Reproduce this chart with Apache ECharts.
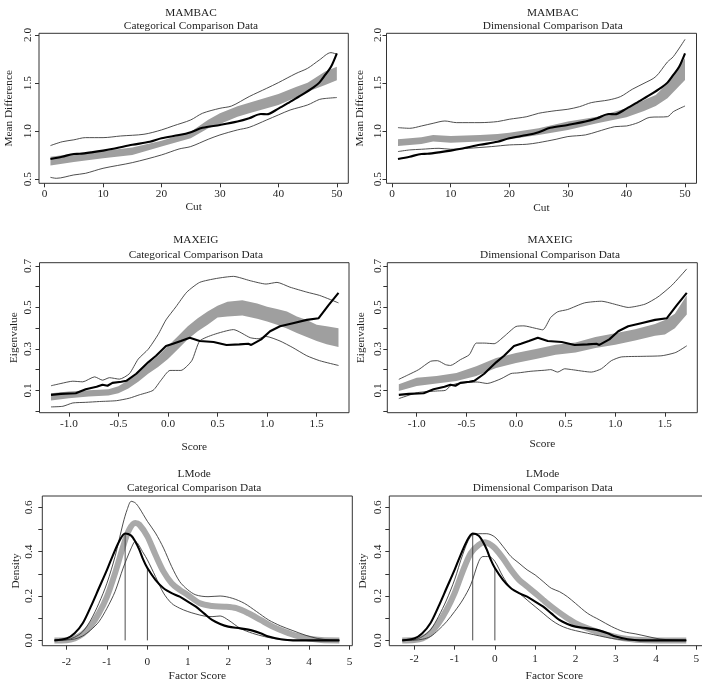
<!DOCTYPE html>
<html>
<head>
<meta charset="utf-8">
<script src="https://cdn.jsdelivr.net/npm/echarts@6/dist/echarts.min.js"></script>
<style>
html, body { margin: 0; padding: 0; background: #fff; }
#plot { width: 702px; height: 692px; }
</style>
</head>
<body>
<div id="plot"></div>
<script>
// ---- MAMBAC (x = cut) ----
var mambacResearch = [[1,0.711],[3,0.735],[5,0.763],[6,0.765],[8,0.78],[10,0.798],[12,0.82],[15,0.858],[18,0.89],[20,0.926],[23,0.96],[25,0.99],[27,1.035],[30,1.065],[33,1.1],[35,1.134],[37,1.178],[38,1.176],[40,1.235],[42,1.305],[44,1.377],[46,1.456],[47,1.505],[48,1.585],[49,1.67],[50,1.81]];
var mambacCatUpper = [[1,0.85],[3,0.89],[5,0.91],[7,0.933],[10,0.933],[13,0.95],[17,0.968],[20,1.013],[22,1.055],[25,1.117],[27,1.186],[30,1.238],[32,1.262],[35,1.36],[38,1.446],[40,1.505],[43,1.6],[45,1.654],[47,1.74],[49,1.817],[50,1.8]];
var mambacCatLower = [[1,0.52],[2,0.51],[5,0.545],[7,0.562],[10,0.614],[15,0.673],[20,0.753],[23,0.815],[25,0.84],[28,0.916],[30,0.961],[33,1.013],[35,1.04],[38,1.117],[40,1.169],[42,1.22],[45,1.273],[47,1.33],[48,1.34],[50,1.35]];
var mambacCatBand = [[1,0.642,0.735],[5,0.68,0.765],[10,0.718,0.795],[15,0.753,0.83],[20,0.84,0.9],[25,0.926,0.995],[28,1.03,1.12],[30,1.075,1.186],[33,1.15,1.26],[35,1.186,1.297],[40,1.273,1.387],[43,1.35,1.46],[45,1.41,1.505],[48,1.48,1.62],[50,1.53,1.67]];
var mambacDimUpper = [[1,1.037],[3,1.03],[5,1.054],[7,1.082],[9,1.106],[11,1.089],[15,1.089],[18,1.1],[20,1.124],[23,1.151],[25,1.186],[28,1.214],[30,1.228],[32,1.255],[34,1.297],[37,1.325],[39,1.36],[41,1.436],[43,1.498],[45,1.567],[47,1.72],[48,1.775],[50,1.955]];
var mambacDimLower = [[1,0.788],[3,0.805],[5,0.812],[8,0.822],[10,0.812],[13,0.822],[17,0.84],[20,0.857],[23,0.864],[25,0.881],[28,0.916],[30,0.944],[33,0.961],[35,0.995],[38,1.047],[40,1.054],[42,1.089],[44,1.144],[47,1.151],[48,1.203],[50,1.262]];
var mambacDimBand = [[1,0.846,0.916],[5,0.867,0.937],[7,0.892,0.961],[10,0.881,0.95],[15,0.892,0.961],[18,0.902,0.971],[20,0.916,0.985],[25,0.961,1.03],[30,1.013,1.1],[35,1.082,1.151],[40,1.144,1.238],[43,1.21,1.325],[45,1.262,1.377],[47,1.342,1.498],[50,1.533,1.758]];

// ---- MAXEIG (x = score) ----
var maxeigResearch = [[-1.18,0.078],[-1.08,0.083],[-0.93,0.086],[-0.83,0.105],[-0.72,0.117],[-0.66,0.127],[-0.61,0.122],[-0.56,0.136],[-0.47,0.141],[-0.42,0.146],[-0.32,0.18],[-0.2,0.235],[-0.12,0.267],[-0.02,0.314],[0.05,0.325],[0.13,0.338],[0.22,0.354],[0.32,0.338],[0.46,0.333],[0.59,0.319],[0.72,0.322],[0.81,0.325],[0.84,0.319],[0.94,0.346],[1.03,0.385],[1.13,0.409],[1.26,0.424],[1.4,0.44],[1.52,0.448],[1.62,0.511],[1.72,0.57]];
var maxeigCatUpper = [[-1.18,0.122],[-1.08,0.133],[-0.96,0.144],[-0.86,0.141],[-0.74,0.165],[-0.66,0.149],[-0.59,0.161],[-0.49,0.154],[-0.39,0.18],[-0.3,0.251],[-0.2,0.298],[-0.1,0.369],[-0.02,0.44],[0.08,0.503],[0.19,0.574],[0.32,0.621],[0.49,0.64],[0.66,0.65],[0.83,0.629],[0.99,0.613],[1.1,0.621],[1.23,0.598],[1.4,0.574],[1.53,0.558],[1.72,0.522]];
var maxeigCatLower = [[-1.18,0.02],[-1.06,0.023],[-0.96,0.039],[-0.83,0.042],[-0.69,0.046],[-0.52,0.05],[-0.39,0.062],[-0.29,0.078],[-0.15,0.1],[-0.07,0.149],[0.02,0.196],[0.13,0.196],[0.24,0.243],[0.32,0.338],[0.46,0.369],[0.66,0.393],[0.83,0.354],[0.91,0.349],[0.99,0.36],[1.13,0.338],[1.26,0.306],[1.4,0.267],[1.53,0.243],[1.72,0.22]];
var maxeigCatBand = [[-1.18,0.051,0.086],[-1.0,0.062,0.094],[-0.8,0.07,0.1],[-0.6,0.075,0.105],[-0.5,0.086,0.12],[-0.4,0.109,0.149],[-0.3,0.141,0.188],[-0.2,0.18,0.228],[-0.1,0.212,0.267],[0,0.251,0.314],[0.1,0.298,0.361],[0.2,0.346,0.409],[0.3,0.385,0.448],[0.4,0.417,0.48],[0.5,0.451,0.508],[0.6,0.456,0.527],[0.75,0.461,0.535],[0.9,0.445,0.519],[1.0,0.432,0.503],[1.1,0.417,0.492],[1.2,0.398,0.48],[1.3,0.377,0.456],[1.4,0.357,0.44],[1.5,0.338,0.417],[1.6,0.322,0.409],[1.72,0.309,0.4]];
var maxeigDimUpper = [[-1.18,0.153],[-1.08,0.176],[-0.98,0.2],[-0.86,0.24],[-0.79,0.243],[-0.71,0.224],[-0.66,0.22],[-0.56,0.248],[-0.47,0.272],[-0.4,0.328],[-0.32,0.328],[-0.22,0.325],[-0.12,0.36],[0,0.408],[0.08,0.411],[0.19,0.4],[0.27,0.392],[0.35,0.452],[0.42,0.479],[0.52,0.49],[0.69,0.522],[0.86,0.53],[1.03,0.511],[1.13,0.5],[1.3,0.516],[1.43,0.551],[1.57,0.607],[1.72,0.686]];
var maxeigDimLower = [[-1.18,0.06],[-0.99,0.089],[-0.79,0.097],[-0.71,0.1],[-0.66,0.121],[-0.59,0.133],[-0.39,0.14],[-0.29,0.133],[-0.15,0.156],[-0.05,0.181],[0.02,0.184],[0.15,0.192],[0.29,0.197],[0.35,0.2],[0.42,0.188],[0.49,0.204],[0.56,0.2],[0.76,0.188],[0.86,0.204],[0.96,0.243],[1.06,0.261],[1.27,0.264],[1.47,0.267],[1.61,0.283],[1.72,0.315]];
var maxeigDimBand = [[-1.18,0.097,0.129],[-1.0,0.121,0.161],[-0.8,0.133,0.169],[-0.6,0.145,0.184],[-0.4,0.169,0.216],[-0.2,0.208,0.256],[0,0.232,0.28],[0.2,0.251,0.3],[0.4,0.272,0.32],[0.6,0.283,0.331],[0.8,0.304,0.357],[1.0,0.32,0.376],[1.2,0.341,0.395],[1.4,0.363,0.42],[1.5,0.37,0.44],[1.6,0.4,0.47],[1.72,0.466,0.559]];

// ---- L-Mode (x = factor score) ----
var lmodeResearch = [[-2.3,0],[-2.0,0.008],[-1.8,0.032],[-1.6,0.077],[-1.4,0.152],[-1.2,0.235],[-1.0,0.318],[-0.9,0.363],[-0.7,0.446],[-0.55,0.482],[-0.4,0.472],[-0.3,0.446],[-0.2,0.409],[-0.1,0.363],[0,0.326],[0.2,0.273],[0.4,0.235],[0.6,0.213],[0.8,0.197],[1.0,0.175],[1.2,0.152],[1.4,0.122],[1.6,0.092],[1.8,0.074],[2.0,0.062],[2.3,0.054],[2.6,0.044],[2.8,0.032],[3.0,0.017],[3.3,0.005],[3.6,0],[4.75,0]];
var lmodeCatUpper = [[-2.3,0],[-2.0,0.003],[-1.8,0.014],[-1.6,0.039],[-1.4,0.092],[-1.2,0.167],[-1.0,0.258],[-0.8,0.378],[-0.6,0.529],[-0.5,0.59],[-0.4,0.627],[-0.3,0.62],[-0.2,0.597],[0,0.537],[0.2,0.484],[0.4,0.416],[0.6,0.333],[0.8,0.265],[1.0,0.228],[1.2,0.205],[1.5,0.197],[1.8,0.2],[2.1,0.19],[2.4,0.167],[2.7,0.13],[3.0,0.092],[3.3,0.065],[3.6,0.044],[3.9,0.024],[4.2,0.009],[4.5,0.002],[4.75,0]];
var lmodeCatLower = [[-2.3,0],[-2.0,0.002],[-1.8,0.006],[-1.6,0.02],[-1.4,0.047],[-1.2,0.084],[-1.0,0.145],[-0.8,0.22],[-0.6,0.326],[-0.4,0.416],[-0.3,0.446],[-0.1,0.394],[0,0.363],[0.2,0.288],[0.4,0.213],[0.6,0.167],[0.8,0.145],[1.0,0.13],[1.2,0.119],[1.4,0.11],[1.6,0.107],[1.8,0.11],[2.0,0.092],[2.3,0.054],[2.6,0.032],[2.9,0.017],[3.2,0.006],[3.6,0],[4.75,0]];
var lmodeCatMean = [[-2.3,0],[-2.0,0.001],[-1.8,0.009],[-1.6,0.029],[-1.4,0.065],[-1.2,0.122],[-1.0,0.197],[-0.8,0.303],[-0.6,0.424],[-0.45,0.499],[-0.3,0.529],[-0.2,0.522],[0,0.469],[0.2,0.386],[0.4,0.31],[0.6,0.258],[0.8,0.228],[1.0,0.205],[1.3,0.167],[1.6,0.155],[1.9,0.152],[2.2,0.145],[2.5,0.122],[2.8,0.092],[3.1,0.062],[3.4,0.039],[3.7,0.02],[4.0,0.008],[4.3,0.002],[4.75,0]];
var lmodeDimUpper = [[-2.3,0],[-2.0,0.003],[-1.8,0.017],[-1.6,0.047],[-1.4,0.107],[-1.2,0.182],[-1.0,0.273],[-0.8,0.386],[-0.6,0.469],[-0.4,0.481],[-0.2,0.481],[0,0.466],[0.2,0.424],[0.4,0.378],[0.6,0.348],[0.8,0.318],[1.0,0.295],[1.2,0.265],[1.4,0.235],[1.6,0.22],[1.8,0.197],[2.0,0.167],[2.3,0.122],[2.6,0.092],[2.9,0.062],[3.2,0.039],[3.5,0.029],[3.8,0.017],[4.1,0.006],[4.4,0.002],[4.75,0]];
var lmodeDimLower = [[-2.3,0],[-2.0,0.001],[-1.8,0.005],[-1.6,0.017],[-1.4,0.047],[-1.2,0.084],[-1.0,0.13],[-0.8,0.182],[-0.6,0.25],[-0.4,0.356],[-0.3,0.378],[-0.15,0.378],[0,0.356],[0.2,0.288],[0.4,0.235],[0.6,0.213],[0.8,0.182],[1.0,0.152],[1.2,0.122],[1.4,0.092],[1.6,0.069],[1.8,0.054],[2.0,0.044],[2.3,0.032],[2.6,0.02],[2.9,0.009],[3.2,0.002],[3.5,0],[4.75,0]];
var lmodeDimMean = [[-2.3,0],[-2.0,0.002],[-1.8,0.009],[-1.6,0.032],[-1.4,0.077],[-1.2,0.137],[-1.0,0.213],[-0.8,0.31],[-0.6,0.393],[-0.4,0.431],[-0.25,0.442],[-0.1,0.431],[0,0.416],[0.2,0.371],[0.4,0.318],[0.6,0.273],[0.8,0.243],[1.0,0.213],[1.2,0.182],[1.4,0.152],[1.6,0.125],[1.8,0.1],[2.0,0.077],[2.3,0.054],[2.6,0.035],[2.9,0.02],[3.2,0.009],[3.5,0.003],[4.0,0],[4.75,0]];
// vertical markers: [x, top]
var lmodeMarks = [[-0.55,0.482],[0,0.326]];

// ---- axis ticks ----
var cutTicks = [0,10,20,30,40,50];
var diffTicks = [0.5,1.0,1.5,2.0];
var scoreTicks = [-1.0,-0.5,0,0.5,1.0,1.5];
var eigTicks = [0,0.1,0.2,0.3,0.4,0.5,0.6,0.7];
var eigLabels = [0.1,0.3,0.5,0.7];
var factorTicks = [-2,-1,0,1,2,3,4,5];
var densTicks = [0,0.1,0.2,0.3,0.4,0.5,0.6];
var densLabels = [0,0.2,0.4,0.6];

var FONT = 'Liberation Serif';
var FS = 11.3;
var TXT = '#1e1e1e';
var BAND = '#9f9f9f';
var THIN = '#3a3a3a';

var myChart = echarts.init(document.getElementById('plot'));

// 面板位置
var grids = [
  {left: 39, top: 33.3, width: 309.3, height: 150},
  {left: 386.5, top: 33.3, width: 310, height: 150},
  {left: 39.5, top: 262.7, width: 309.5, height: 150},
  {left: 387.3, top: 262.7, width: 310, height: 150},
  {left: 42.3, top: 496, width: 310, height: 149.7},
  {left: 389.3, top: 496, width: 330, height: 149.7}
].map(function (g) {
  return Object.assign({show: true, borderColor: '#333', borderWidth: 1, backgroundColor: 'transparent', containLabel: false, outerBoundsMode: 'none'}, g);
});

var fmt1 = function (v) { return v.toFixed(1); };
var fmt0 = function (v) { return String(v); };

var panels = [
  {x: [-0.96, 51.96], y: [0.458, 2.018], xt: cutTicks, xl: cutTicks, xf: fmt0, yt: diffTicks, yl: diffTicks, yf: fmt1, xn: 'Cut', yn: 'Mean Difference', xm: 5, ym: 5, xg: 18, yg: 24.5},
  {x: [-0.96, 51.96], y: [0.458, 2.018], xt: cutTicks, xl: cutTicks, xf: fmt0, yt: diffTicks, yl: diffTicks, yf: fmt1, xn: 'Cut', yn: 'Mean Difference', xm: 5, ym: 2.5, xg: 19, yg: 21},
  {x: [-1.296, 1.826], y: [-0.008, 0.716], xt: scoreTicks, xl: scoreTicks, xf: fmt1, yt: eigTicks, yl: eigLabels, yf: fmt1, xn: 'Score', yn: 'Eigenvalue', xm: 5.5, ym: 5.5, xg: 29, yg: 19.5},
  {x: [-1.296, 1.826], y: [-0.008, 0.716], xt: scoreTicks, xl: scoreTicks, xf: fmt1, yt: eigTicks, yl: eigLabels, yf: fmt1, xn: 'Score', yn: 'Eigenvalue', xm: 5.5, ym: 3.3, xg: 26, yg: 20.5},
  {x: [-2.6, 5.07], y: [-0.024, 0.651], xt: factorTicks, xl: factorTicks, xf: fmt0, yt: densTicks, yl: densLabels, yf: fmt1, xn: 'Factor Score', yn: 'Density', xm: 10.5, ym: 7.5, xg: 25, yg: 21},
  {x: [-2.62, 5.57], y: [-0.024, 0.651], xt: factorTicks, xl: factorTicks, xf: fmt0, yt: densTicks, yl: densLabels, yf: fmt1, xn: 'Factor Score', yn: 'Density', xm: 7.5, ym: 5.3, xg: 25, yg: 21}
];

var textStyle = {fontFamily: FONT, fontSize: FS, color: TXT};

var xAxes = panels.map(function (p, i) {
  return {
    type: 'value', gridIndex: i, position: 'bottom', min: p.x[0], max: p.x[1],
    axisLine: {show: false, onZero: false}, splitLine: {show: false},
    axisTick: {show: true, length: 4, customValues: p.xt, lineStyle: {color: '#333', width: 1}},
    axisLabel: Object.assign({customValues: p.xl, formatter: p.xf, margin: p.xm, hideOverlap: false, showMinLabel: true, showMaxLabel: true}, textStyle),
    name: p.xn, nameLocation: 'middle', nameGap: p.xg, nameTextStyle: textStyle, nameMoveOverlap: false
  };
});

var yAxes = panels.map(function (p, i) {
  return {
    type: 'value', gridIndex: i, position: 'left', min: p.y[0], max: p.y[1],
    axisLine: {show: false, onZero: false}, splitLine: {show: false},
    axisTick: {show: true, length: 4, customValues: p.yt, lineStyle: {color: '#333', width: 1}},
    axisLabel: Object.assign({customValues: p.yl, formatter: p.yf, margin: p.ym, rotate: 90, hideOverlap: false}, textStyle),
    name: p.yn, nameLocation: 'middle', nameGap: p.yg, nameTextStyle: textStyle, nameMoveOverlap: false
  };
});

function band(i, data) {
  return {
    type: 'custom', xAxisIndex: i, yAxisIndex: i, silent: true, clip: true, z: 1,
    data: data, encode: {x: 0, y: [1, 2]},
    renderItem: function (params, api) {
      if (params.dataIndex !== 0) return null;
      var pts = [];
      data.forEach(function (d) { pts.push(api.coord([d[0], d[2]])); });
      data.slice().reverse().forEach(function (d) { pts.push(api.coord([d[0], d[1]])); });
      return {type: 'polygon', shape: {points: pts}, style: {fill: BAND}};
    }
  };
}

function line(i, data, color, width, smooth, z) {
  return {
    type: 'line', xAxisIndex: i, yAxisIndex: i, data: data, symbol: 'none', silent: true,
    smooth: smooth, lineStyle: {color: color, width: width}, z: z
  };
}

function marks(i) {
  return lmodeMarks.map(function (m) {
    return line(i, [[m[0], 0], [m[0], m[1]]], THIN, 0.9, false, 3);
  });
}

var series = [
  band(0, mambacCatBand),
  line(0, mambacCatUpper, THIN, 0.9, 0.3, 3),
  line(0, mambacCatLower, THIN, 0.9, 0.3, 3),
  line(0, mambacResearch, '#000', 2.1, 0.3, 4),

  band(1, mambacDimBand),
  line(1, mambacDimUpper, THIN, 0.9, 0.3, 3),
  line(1, mambacDimLower, THIN, 0.9, 0.3, 3),
  line(1, mambacResearch, '#000', 2.1, 0.3, 4),

  band(2, maxeigCatBand),
  line(2, maxeigCatUpper, THIN, 0.9, 0.2, 3),
  line(2, maxeigCatLower, THIN, 0.9, 0.2, 3),
  line(2, maxeigResearch, '#000', 2.1, false, 4),

  band(3, maxeigDimBand),
  line(3, maxeigDimUpper, THIN, 0.9, 0.2, 3),
  line(3, maxeigDimLower, THIN, 0.9, 0.2, 3),
  line(3, maxeigResearch, '#000', 2.1, false, 4),

  line(4, lmodeCatMean, '#a9a9a9', 6, 0.3, 2),
  line(4, lmodeCatUpper, THIN, 0.9, 0.3, 3),
  line(4, lmodeCatLower, THIN, 0.9, 0.3, 3),
  line(4, lmodeResearch, '#000', 2.1, 0.3, 4),

  line(5, lmodeDimMean, '#a9a9a9', 6, 0.3, 2),
  line(5, lmodeDimUpper, THIN, 0.9, 0.3, 3),
  line(5, lmodeDimLower, THIN, 0.9, 0.3, 3),
  line(5, lmodeResearch, '#000', 2.1, 0.3, 4)
].concat(marks(4), marks(5));

// 标题 (两行)
var titles = [
  ['MAMBAC\nCategorical Comparison Data', 191, 6.05, 13.3],
  ['MAMBAC\nDimensional Comparison Data', 552.7, 6.05, 13.3],
  ['MAXEIG\nCategorical Comparison Data', 195.8, 232.5, 15],
  ['MAXEIG\nDimensional Comparison Data', 550, 232.5, 15],
  ['LMode\nCategorical Comparison Data', 194.2, 466.9, 14.3],
  ['LMode\nDimensional Comparison Data', 542.7, 466.9, 14.3]
].map(function (t) {
  return {
    text: t[0], left: t[1], top: t[2], textAlign: 'center', padding: 0,
    textStyle: {fontFamily: FONT, fontSize: FS, fontWeight: 'normal', color: TXT, lineHeight: t[3]}
  };
});

var option = {
  backgroundColor: '#fff',
  animation: false,
  title: titles,
  grid: grids,
  xAxis: xAxes,
  yAxis: yAxes,
  series: series
};

myChart.setOption(option);
</script>
</body>
</html>
